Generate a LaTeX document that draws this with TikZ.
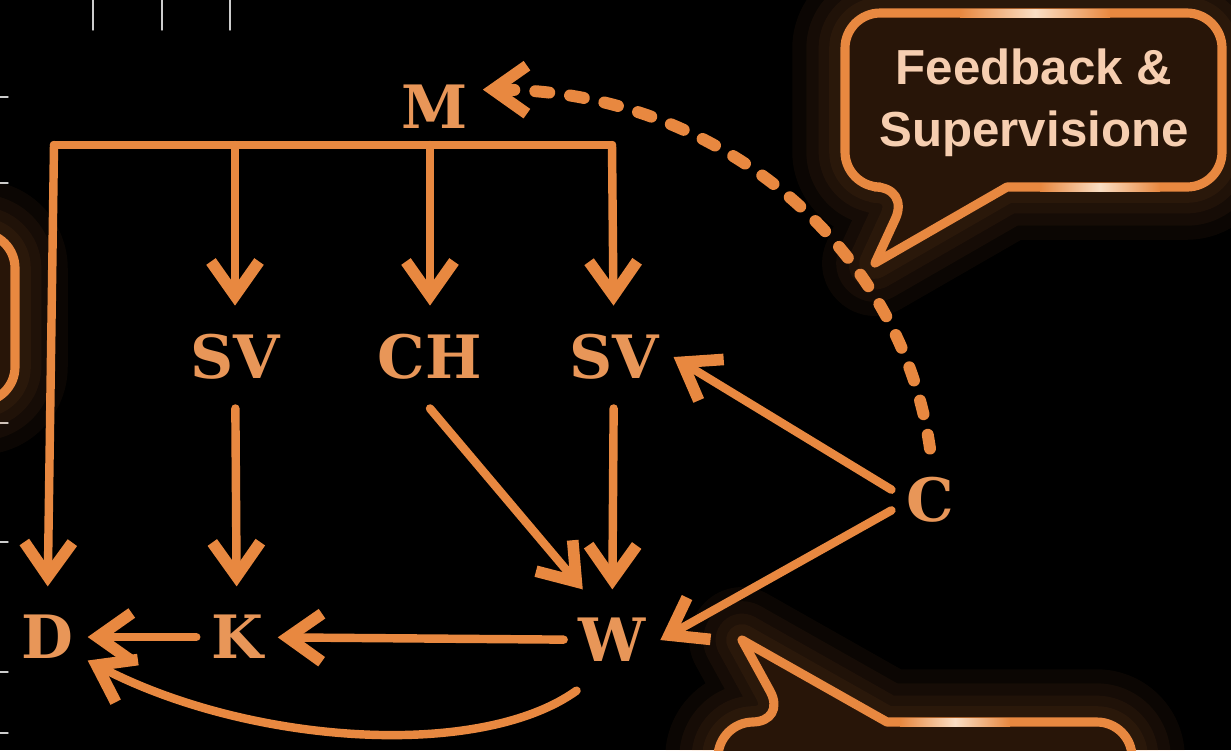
\documentclass[tikz,border=0pt]{standalone}
\usepackage{fontspec}
\setmainfont{DejaVu Serif}
\newfontfamily\bubblefont{Liberation Sans}
\usetikzlibrary{arrows.meta,positioning}

\definecolor{chalk}{RGB}{232,136,64}
\definecolor{chalktext}{RGB}{232,150,88}
\definecolor{bubblefill}{RGB}{40,21,8}
\definecolor{bubbletext}{RGB}{246,206,176}
\definecolor{gleam}{RGB}{250,222,196}

\tikzset{
  lbl/.style={text=chalktext,font=\bfseries\fontsize{17}{17}\selectfont,inner xsep=4pt,inner ysep=8pt},
  chalkline/.style={draw=chalk,line width=2.4pt},
  bubbleline/.style={draw=chalk,line width=2.6pt,fill=bubblefill},
  glow/.style={draw=chalk,line width=#1,opacity=0.05},
}

\begin{document}
\begin{tikzpicture}[x=0.01cm,y=-0.01cm,line join=round,line cap=round,
    >={Straight Barb[length=3.4mm,width=4.8mm,line width=3.3pt]}]

    % Nền
    \fill[black] (0,0) rectangle (1231,750);
    \useasboundingbox (0,0) rectangle (1231,750);
    \clip (0,0) rectangle (1231,750);

    % Vạch mờ ở mép
    \foreach \u in {93,162,230}
        \draw[gray!40,line width=0.4pt] (\u,0) -- (\u,30);
    \foreach \v in {97,183,423,542,672,733}
        \draw[gray!40,line width=0.4pt] (0,\v) -- (8,\v);

    % Khung bên trái (bị cắt)
    \def\bubbleL{(-100,233) [rounded corners=10pt] rectangle (15,402)}
    \foreach \w in {30pt,22pt,15pt,9pt} \path[glow=\w] \bubbleL;
    \path[bubbleline] \bubbleL;

    % Khung "Feedback & Supervisione"
    \def\bubbleA{(1007,187) [rounded corners=10pt] -- (1222,187) -- (1222,13) -- (845,13) -- (845,187) -- (910,187)
        [sharp corners] -- (875,263) -- cycle}
    \foreach \w in {30pt,22pt,15pt,9pt} \path[glow=\w] \bubbleA;
    \path[bubbleline] \bubbleA;
    \shade[left color=chalk,right color=chalk,middle color=gleam] (960,9) rectangle (1110,17);
    \shade[left color=chalk,right color=chalk,middle color=gleam] (1040,183) rectangle (1160,191);
    \node[text=bubbletext,font=\bubblefont\bfseries\fontsize{14}{17.6}\selectfont,align=center]
        (fb) at (1034,103) {Feedback \&\\Supervisione};

    % Khung dưới (bị cắt)
    \def\bubbleB{(887,722) [rounded corners=10pt] -- (1132,722) -- (1132,820) -- (718,820) -- (718,722) -- (787,722)
        [sharp corners] -- (742,640) -- cycle}
    \foreach \w in {30pt,22pt,15pt,9pt} \path[glow=\w] \bubbleB;
    \path[bubbleline] \bubbleB;
    \shade[left color=chalk,right color=chalk,middle color=gleam] (900,718) rectangle (1010,726);

    % Các nút
    \node[lbl] (M)   at (435,107) {M};
    \node[lbl] (SVa) at (235,357) {SV};
    \node[lbl] (CH)  at (430,357) {CH};
    \node[lbl] (SVb) at (614,357) {SV};
    \node[lbl] (C)   at (930,500) {C};
    \node[lbl] (D)   at (47,637)  {D};
    \node[lbl] (K)   at (237,637) {K};
    \node[lbl] (W)   at (612,640) {W};

    % Thanh ngang dưới M
    \coordinate (barL) at (54,145);
    \coordinate (barR) at (612,145);
    \draw[chalkline] (barL) -- (barR);

    % Mũi tên xuống
    \draw[chalkline,->] (barL) -- (D);
    \draw[chalkline,->] (SVa |- barL) -- (SVa);
    \draw[chalkline,->] (CH |- barL) -- (CH);
    \draw[chalkline,->] (barR) -- (SVb);

    % Các mũi tên còn lại
    \draw[chalkline,->] (SVa) -- (K);
    \draw[chalkline,->] (SVb) -- (W);
    \draw[chalkline,->] (CH.south) -- (W.120);
    \draw[chalkline,->] (C.165) -- (SVb.east);
    \draw[chalkline,->] (C.195) -- (W.east);
    \draw[chalkline,->] (W) -- (K);
    \draw[chalkline,->] (K) -- (D);
    \draw[chalkline,->] (W.235) .. controls (480,760) and (250,745) .. (D.-30);

    % Phản hồi (nét đứt)
    \draw[chalkline,line width=3.4pt,dash pattern=on 0.14cm off 0.21cm,->] (C.north)
        .. controls (900,240) and (710,90) .. (M.20);

\end{tikzpicture}
\end{document}
